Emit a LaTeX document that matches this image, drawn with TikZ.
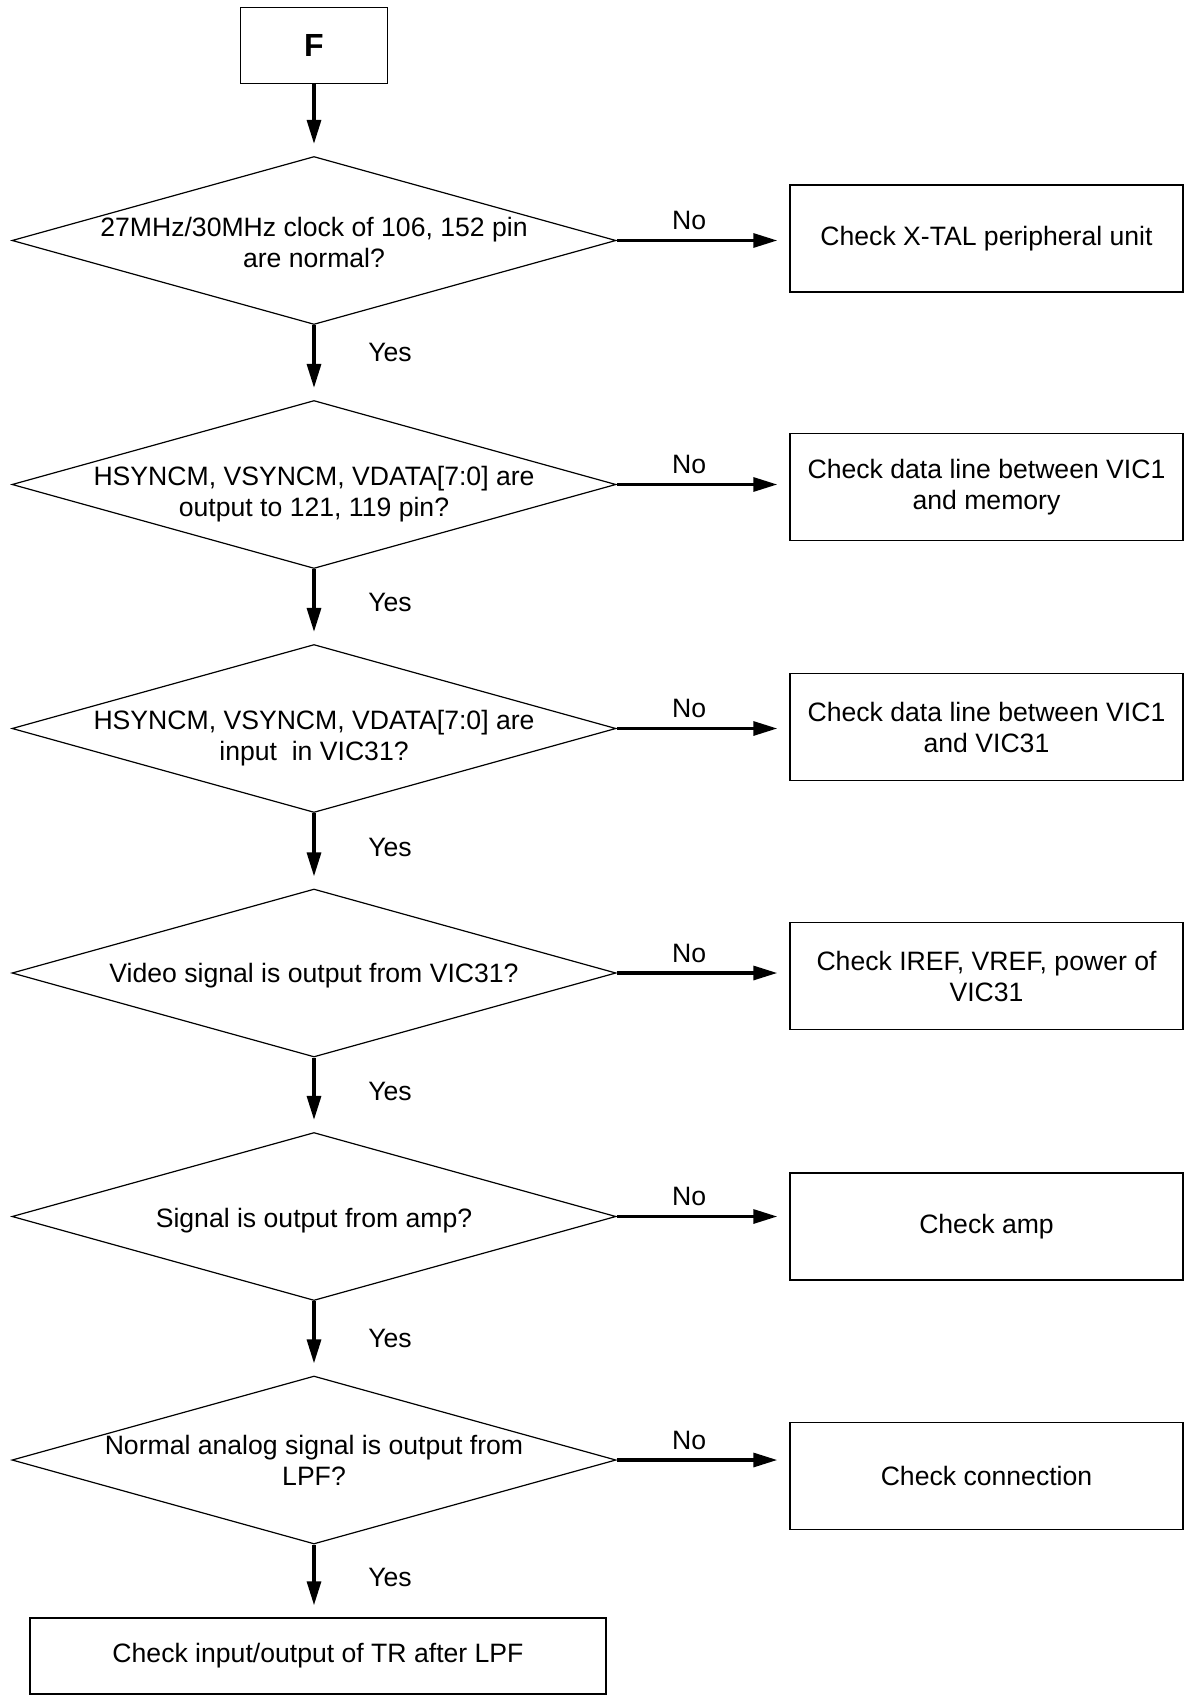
\documentclass[tikz,border=0pt]{standalone}
\usepackage{fontspec}
\setmainfont{Liberation Sans}
\usetikzlibrary{arrows.meta, shapes.geometric, positioning}

\tikzset{
  box/.style={draw, line width=0.75pt, minimum width=196.5pt, minimum height=53.5pt, align=center, inner sep=0pt},
  decision/.style={draw, diamond, line width=0.6pt, minimum width=302pt, minimum height=84pt, inner sep=0pt},
  qtext/.style={align=center, inner sep=0pt},
  flow/.style={-{Triangle[length=12pt, width=7pt]}, line width=1.6pt, shorten >=6pt},
}

\begin{document}
\begin{tikzpicture}[x=0.5pt, y=-0.5pt, font=\fontsize{13.3}{15.5}\selectfont]
    \useasboundingbox (0,0) rectangle (1184,1695);

    % Start
    \node[draw, line width=0.75pt, minimum width=73.5pt, minimum height=38pt,
          font=\fontsize{16}{18}\selectfont\bfseries] (start) at (314,45.5) {F};

    % Decisions
    \node[decision] (q1) at (314,240.5) {};
    \node[qtext] (t1) at ([yshift=-1pt]q1) {27MHz/30MHz clock of 106, 152 pin\\are normal?};
    \node[decision] (q2) at (314,484.5) {};
    \node[qtext] (t2) at ([yshift=-5pt]q2) {HSYNCM, VSYNCM, VDATA[7:0] are\\output to 121, 119 pin?};
    \node[decision] (q3) at (314,728.5) {};
    \node[qtext] (t3) at ([yshift=-5pt]q3) {HSYNCM, VSYNCM, VDATA[7:0] are\\input~ in VIC31?};
    \node[decision] (q4) at (314,973) {};
    \node[qtext] (t4) at ([yshift=-1.5pt]q4) {Video signal is output from VIC31?};
    \node[decision] (q5) at (314,1216.5) {};
    \node[qtext] (t5) at ([yshift=-2pt]q5) {Signal is output from amp?};
    \node[decision] (q6) at (314,1460) {};
    \node[qtext] (t6) at (q6) {Normal analog signal is output from\\LPF?};

    % Actions
    \node[box] (b1) at (986.5,238.5) {Check X-TAL peripheral unit};
    \node[box] (b2) at (986.5,487) {Check data line between VIC1\\and memory};
    \node[box] (b3) at (986.5,727) {Check data line between VIC1\\and VIC31};
    \node[box] (b4) at (986.5,976) {Check IREF, VREF, power of\\VIC31};
    \node[box] (b5) at (986.5,1226.5) {Check amp};
    \node[box] (b6) at (986.5,1476) {Check connection};
    \node[box, minimum width=288pt, minimum height=38pt] (stop) at (318,1656) {Check input/output of TR after LPF};

    % Yes branches
    \draw[flow] (start) -- (q1);
    \draw[flow] (q1) -- node[pos=0.37, right=23pt] (y1) {Yes} (q2);
    \draw[flow] (q2) -- node[pos=0.45, right=23pt] (y2) {Yes} (q3);
    \draw[flow] (q3) -- node[pos=0.45, right=23pt] (y3) {Yes} (q4);
    \draw[flow] (q4) -- node[pos=0.45, right=23pt] (y4) {Yes} (q5);
    \draw[flow] (q5) -- node[pos=0.5, right=23pt] (y5) {Yes} (q6);
    \draw[flow] (q6.south) -- node[pos=0.45, right=23pt] (y6) {Yes} (q6.south |- stop.north);

    % No branches
    \draw[flow] (q1.east) -- node[pos=0.42, above=1pt] (n1) {No} (q1.east -| b1.west);
    \draw[flow] (q2.east) -- node[pos=0.42, above=1pt] (n2) {No} (q2.east -| b2.west);
    \draw[flow] (q3.east) -- node[pos=0.42, above=1pt] (n3) {No} (q3.east -| b3.west);
    \draw[flow] (q4.east) -- node[pos=0.42, above=1pt] (n4) {No} (q4.east -| b4.west);
    \draw[flow] (q5.east) -- node[pos=0.42, above=1pt] (n5) {No} (q5.east -| b5.west);
    \draw[flow] (q6.east) -- node[pos=0.42, above=1pt] (n6) {No} (q6.east -| b6.west);
\end{tikzpicture}
\end{document}
